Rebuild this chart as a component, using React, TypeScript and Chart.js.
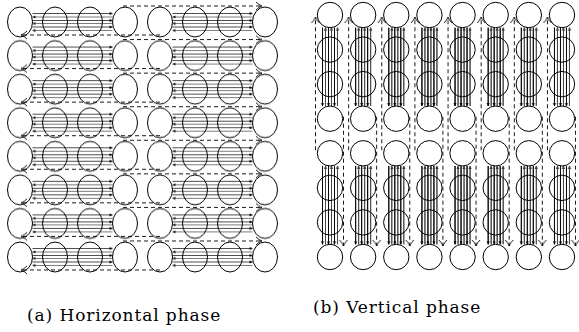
import React, { useEffect, useRef } from "react";
import { Chart, registerables } from "chart.js";

Chart.register(...registerables);

// ---------- data ----------
// Panel (a): horizontal phase — 8 rows of 8 nodes, two groups of 4 per row
const hRows = [0, 1, 2, 3, 4, 5, 6, 7];
const hNodes = [0, 1, 2, 3, 4, 5, 6, 7];
const hGroups = [
  [0, 3],
  [4, 7],
];
// Panel (b): vertical phase — 8 columns of 8 nodes, two groups of 4 per column
const vCols = [0, 1, 2, 3, 4, 5, 6, 7];
const vNodes = [0, 1, 2, 3, 4, 5, 6, 7];
const vGroups = [
  [0, 3],
  [4, 7],
];
// direction of each intra-group message lane: 1 = forward, -1 = backward
const laneDirs = [1, -1, 1, -1, 1, -1];
const captions = ["(a) Horizontal phase", "(b) Vertical phase"];

// ---------- styling / layout ----------
const LANE_OFF_A = [-8.5, -5, -1.5, 1.5, 5, 8.5];
const LANE_OFF_B = [-7.5, -4.5, -1.5, 1.5, 4.5, 7.5];

function makeCanvas(w: number, h: number, draw: (c: CanvasRenderingContext2D) => void) {
  const c = document.createElement("canvas");
  c.width = w;
  c.height = h;
  const ctx = c.getContext("2d")!;
  draw(ctx);
  return c;
}

function ellipseStyle(rx: number, ry: number) {
  const w = 2 * Math.ceil(rx + 1.5);
  const h = 2 * Math.ceil(ry + 1.5);
  return makeCanvas(w, h, (ctx) => {
    ctx.strokeStyle = "#000";
    ctx.lineWidth = 1;
    ctx.beginPath();
    ctx.ellipse(w / 2, h / 2, rx, ry, 0, 0, Math.PI * 2);
    ctx.stroke();
  });
}

const smallHead = () =>
  makeCanvas(10, 8, (ctx) => {
    ctx.fillStyle = "#000";
    ctx.beginPath();
    ctx.moveTo(5, 4);
    ctx.lineTo(2, 2.4);
    ctx.lineTo(2, 5.6);
    ctx.closePath();
    ctx.fill();
  });

const bigHead = () =>
  makeCanvas(16, 12, (ctx) => {
    ctx.strokeStyle = "#000";
    ctx.lineWidth = 0.9;
    ctx.beginPath();
    ctx.moveTo(2, 2);
    ctx.quadraticCurveTo(5, 5.2, 8, 6);
    ctx.quadraticCurveTo(5, 6.8, 2, 10);
    ctx.stroke();
  });

type Pt = { x: number; y: number };

function lineDs(data: Pt[], dashed: boolean, color = "#000") {
  return {
    data,
    showLine: true,
    borderColor: color,
    borderWidth: dashed ? 0.9 : 0.7,
    borderDash: dashed ? [4, 3] : [],
    pointRadius: 0,
    fill: false,
    tension: 0,
  };
}

function headsDs(data: Pt[], rot: number[], style: HTMLCanvasElement) {
  return {
    data,
    showLine: false,
    pointStyle: style,
    pointRadius: 4,
    pointRotation: rot,
    borderColor: "#000",
    backgroundColor: "#000",
  };
}

function buildA() {
  const dx = 35, dy = 33.57, x0 = 20, y0 = 22, W = 290, H = 290;
  const ux = (p: number) => p / dx;
  const uy = (p: number) => p / dy;
  const ds: any[] = [];
  const sPts: Pt[] = [], sRot: number[] = [];
  const bPts: Pt[] = [], bRot: number[] = [];
  ds.push({
    data: hRows.flatMap((r) => hNodes.map((n) => ({ x: n, y: r }))),
    showLine: false,
    pointStyle: ellipseStyle(12.5, 15),
    pointRadius: 13,
    borderColor: "#000",
    backgroundColor: "rgba(0,0,0,0)",
  });
  hRows.forEach((r) => {
    hGroups.forEach(([a, b]) => {
      laneDirs.forEach((d, k) => {
        const y = r + uy(LANE_OFF_A[k]);
        const xl = a + ux(12.5);
        const xr = b - ux(12.5);
        ds.push(lineDs([{ x: xl, y }, { x: xr, y }], false, k % 2 ? "#444" : "#000"));
        if (d > 0) { sPts.push({ x: xr, y }); sRot.push(0); }
        else { sPts.push({ x: xl, y }); sRot.push(180); }
      });
    });
    const yt = r + uy(-16);
    const xs = hGroups[0][1] - ux(2);
    const xe = hGroups[1][1] - ux(3);
    ds.push(lineDs([{ x: xs, y: yt }, { x: xe, y: yt }], true));
    bPts.push({ x: xe, y: yt }); bRot.push(0);
    const yb = r + uy(13);
    const xs2 = hGroups[1][0];
    const xe2 = hGroups[0][0] + ux(1);
    ds.push(lineDs([{ x: xs2, y: yb }, { x: xe2, y: yb }], true));
    bPts.push({ x: xe2, y: yb }); bRot.push(180);
  });
  ds.push(headsDs(sPts, sRot, smallHead()));
  ds.push(headsDs(bPts, bRot, bigHead()));
  const xmin = -x0 / dx, ymin = -y0 / dy;
  return { ds, W, H, xmin, xmax: xmin + W / dx, ymin, ymax: ymin + H / dy };
}

function buildB() {
  const dx = 33.14, dy = 34.57, x0 = 40, y0 = 15, W = 289, H = 290, R = 12.7;
  const ux = (p: number) => p / dx;
  const uy = (p: number) => p / dy;
  const ds: any[] = [];
  const sPts: Pt[] = [], sRot: number[] = [];
  const bPts: Pt[] = [], bRot: number[] = [];
  ds.push({
    data: vCols.flatMap((c) => vNodes.map((n) => ({ x: c, y: n }))),
    showLine: false,
    pointStyle: "circle",
    pointRadius: R,
    borderWidth: 1,
    borderColor: "#000",
    backgroundColor: "rgba(0,0,0,0)",
  });
  vCols.forEach((c) => {
    vGroups.forEach(([a, b]) => {
      laneDirs.forEach((d, k) => {
        const x = c + ux(LANE_OFF_B[k]);
        const yt = a + uy(R);
        const yb = b - uy(R);
        ds.push(lineDs([{ x, y: yt }, { x, y: yb }], false, k % 2 ? "#444" : "#000"));
        if (d > 0) { sPts.push({ x, y: yb }); sRot.push(90); }
        else { sPts.push({ x, y: yt }); sRot.push(-90); }
      });
    });
    const xl = c + ux(-14.5);
    const ys = vGroups[1][0] - uy(3);
    const ye = vGroups[0][0] + uy(2);
    ds.push(lineDs([{ x: xl, y: ys }, { x: xl, y: ye }], true));
    bPts.push({ x: xl, y: ye }); bRot.push(-90);
    const xr = c + ux(13.5);
    const ys2 = vGroups[0][1] - uy(2);
    const ye2 = vGroups[1][1] - uy(11);
    ds.push(lineDs([{ x: xr, y: ys2 }, { x: xr, y: ye2 }], true));
    bPts.push({ x: xr, y: ye2 }); bRot.push(90);
  });
  ds.push(headsDs(sPts, sRot, smallHead()));
  ds.push(headsDs(bPts, bRot, bigHead()));
  const xmin = -x0 / dx, ymin = -y0 / dy;
  return { ds, W, H, xmin, xmax: xmin + W / dx, ymin, ymax: ymin + H / dy };
}

function makeChart(canvas: HTMLCanvasElement, spec: ReturnType<typeof buildA>) {
  return new Chart(canvas, {
    type: "scatter",
    data: { datasets: spec.ds },
    options: {
      responsive: false,
      maintainAspectRatio: false,
      animation: false,
      events: [],
      layout: { padding: 0, autoPadding: false },
      plugins: { legend: { display: false }, tooltip: { enabled: false }, title: { display: false } },
      scales: {
        x: { type: "linear", display: false, min: spec.xmin, max: spec.xmax },
        y: { type: "linear", display: false, min: spec.ymin, max: spec.ymax, reverse: true },
      },
    },
  } as any);
}

export default function App() {
  const refA = useRef<HTMLCanvasElement>(null);
  const refB = useRef<HTMLCanvasElement>(null);
  useEffect(() => {
    const a = makeChart(refA.current!, buildA());
    const b = makeChart(refB.current!, buildB());
    return () => {
      a.destroy();
      b.destroy();
    };
  }, []);
  const cap: React.CSSProperties = {
    position: "absolute",
    fontFamily: '"DejaVu Serif", serif',
    fontSize: 17,
    lineHeight: "20px",
    letterSpacing: "0.9px",
    whiteSpace: "nowrap",
    color: "#000",
  };
  return (
    <div style={{ position: "absolute", left: 0, top: 0, width: 579, height: 332, background: "#fff", overflow: "hidden" }}>
      <canvas ref={refA} width={290} height={290} style={{ position: "absolute", left: 0, top: 0 }} />
      <canvas ref={refB} width={289} height={290} style={{ position: "absolute", left: 290, top: 0 }} />
      <div style={{ ...cap, left: 27, top: 305 }}>{captions[0]}</div>
      <div style={{ ...cap, left: 313, top: 297 }}>{captions[1]}</div>
    </div>
  );
}
